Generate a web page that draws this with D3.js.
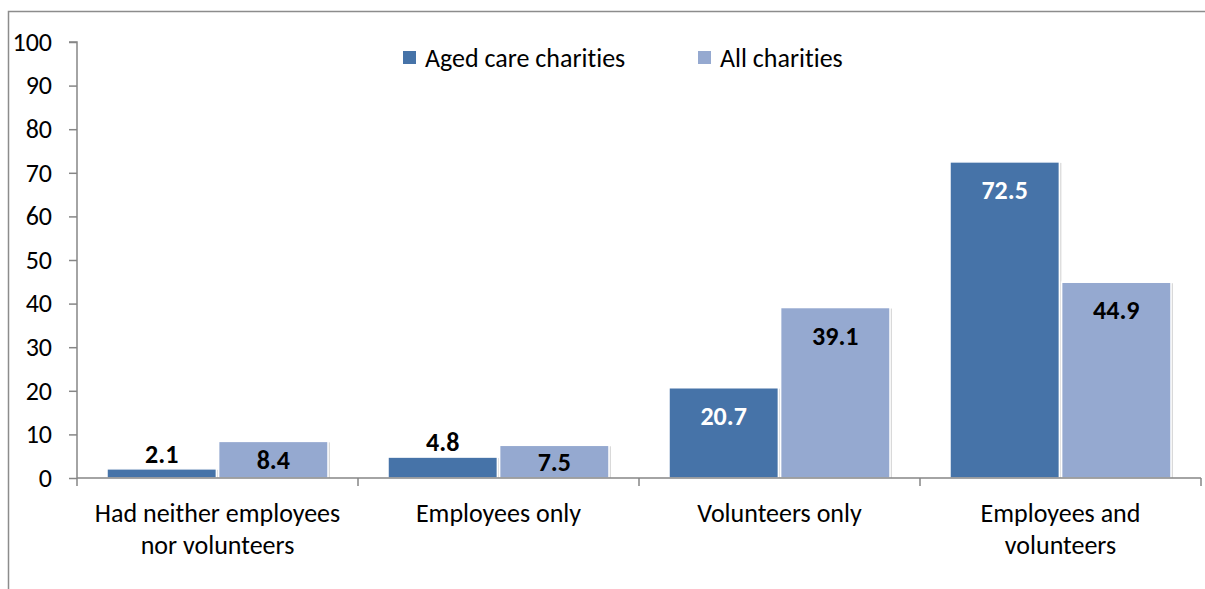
<!DOCTYPE html>
<html>
<head>
<meta charset="utf-8">
<script src="https://cdn.jsdelivr.net/npm/d3@7"></script>
<style>
  html, body { margin: 0; padding: 0; background: #fff; }
  svg { display: block; font-family: Carlito, Lato, "Open Sans", sans-serif; font-variant-ligatures: none; }
</style>
</head>
<body>
<svg id="chart" width="1205" height="589"></svg>
<script>
const categories = [["Had neither employees", "nor volunteers"], ["Employees only"], ["Volunteers only"], ["Employees and", "volunteers"]];
const seriesNames = ["Aged care charities", "All charities"];
const agedCare = [2.1, 4.8, 20.7, 72.5];
const allCharities = [8.4, 7.5, 39.1, 44.9];
const yTicks = [0, 10, 20, 30, 40, 50, 60, 70, 80, 90, 100];
const colors = ["#4673a8", "#95a9d0"];
const labelColors = ["#ffffff", "#000000"];
const FS = "26px";

const svg = d3.select("#chart");

// outer frame
svg.append("rect").attr("x", 8.5).attr("y", 11.5).attr("width", 1300).attr("height", 700)
  .attr("fill", "none").attr("stroke", "#8c8c8c").attr("stroke-width", 1.5);

const x0 = d3.scaleBand().domain(d3.range(categories.length)).range([77, 1201]).padding(0);
const x1 = d3.scaleBand().domain(d3.range(seriesNames.length)).range([30, x0.bandwidth() - 30]).paddingInner(0.02);
const y = d3.scaleLinear().domain([0, 100]).range([478, 42]);

// y axis
const yAxis = d3.axisLeft(y).tickValues(yTicks).tickSize(8).tickPadding(17).tickFormat(d3.format("d"));
const gy = svg.append("g").attr("transform", "translate(77,0)").call(yAxis);
gy.select(".domain").attr("stroke", "#868686").attr("stroke-width", 1.5).attr("d", `M-8,${y(100)}H0V${y(0)}`);
gy.selectAll(".tick line").attr("stroke", "#868686").attr("stroke-width", 1.5);
gy.selectAll(".tick text").attr("fill", "#000").style("font-size", FS)
  .style("font-family", "Carlito, Lato, sans-serif");

// bars
const data = categories.map((c, i) => [agedCare[i], allCharities[i]]);
const groups = svg.append("g").selectAll("g").data(data).join("g")
  .attr("transform", (d, i) => `translate(${x0(i)},0)`);

groups.selectAll("rect.shadow").data(d => d).join("rect")
  .attr("class", "shadow")
  .attr("x", (d, j) => x1(j) + 2).attr("y", d => y(d) + 1)
  .attr("width", x1.bandwidth()).attr("height", d => y(0) - y(d) - 1)
  .attr("fill", "#d9d9d9");
groups.selectAll("rect.bar").data(d => d).join("rect")
  .attr("class", "bar")
  .attr("x", (d, j) => x1(j)).attr("y", d => y(d))
  .attr("width", x1.bandwidth()).attr("height", d => y(0) - y(d))
  .attr("fill", (d, j) => colors[j]).attr("stroke", "#ffffff").attr("stroke-width", 1.5);

// value labels
groups.selectAll("text.val").data(d => d).join("text")
  .attr("class", "val")
  .attr("x", (d, j) => x1(j) + x1.bandwidth() / 2)
  .attr("y", d => {
    const h = y(0) - y(d);
    if (h < 25) return y(d) - 15;
    if (h < 60) return (y(d) + y(0)) / 2;
    return y(d) + 28;
  })
  .attr("dy", "0.35em")
  .attr("text-anchor", "middle")
  .attr("fill", (d, j) => (y(0) - y(d) < 25) ? "#000" : labelColors[j])
  .style("font-size", FS).style("font-weight", "bold")
  .text(d => d.toFixed(1));

// x axis
const xAxis = d3.axisBottom(x0).tickSize(0).tickFormat("");
const gx = svg.append("g").attr("transform", `translate(0,${y(0)})`).call(xAxis);
gx.select(".domain").attr("stroke", "#868686").attr("stroke-width", 1.5).attr("d", `M77,0H1201`);
const bounds = d3.range(categories.length + 1).map(i => 77 + i * x0.step());
gx.selectAll("line.sep").data(bounds).join("line").attr("class", "sep")
  .attr("x1", d => d).attr("x2", d => d).attr("y1", 0).attr("y2", 8)
  .attr("stroke", "#868686").attr("stroke-width", 1.5);

const xl = svg.append("g").selectAll("text").data(categories).join("text")
  .attr("x", (d, i) => x0(i) + x0.bandwidth() / 2)
  .attr("y", 513)
  .attr("text-anchor", "middle").attr("fill", "#000").style("font-size", FS);
xl.selectAll("tspan").data(d => d).join("tspan")
  .attr("x", function () { return d3.select(this.parentNode).attr("x"); })
  .attr("dy", (d, k) => k === 0 ? "0.35em" : "32px")
  .text(d => d);

// legend
const legX = [403, 698];
const leg = svg.append("g").selectAll("g").data(seriesNames).join("g")
  .attr("transform", (d, i) => `translate(${legX[i]},51)`);
leg.append("rect").attr("width", 13).attr("height", 13).attr("fill", (d, i) => colors[i]);
leg.append("text").attr("x", 22).attr("y", 6.5).attr("dy", "0.35em")
  .attr("fill", "#000").style("font-size", FS).text(d => d);
</script>
</body>
</html>
